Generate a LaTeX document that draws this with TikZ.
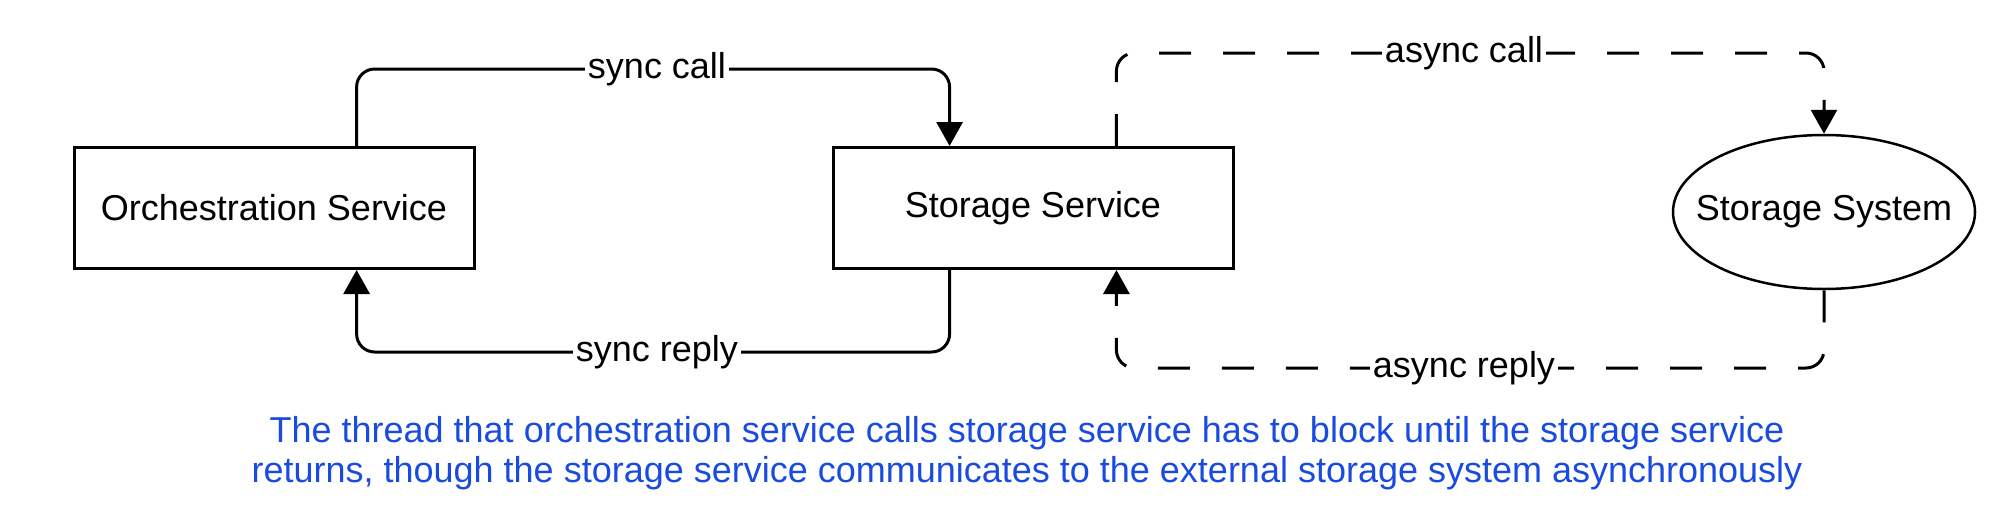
\documentclass[tikz,border=0pt]{standalone}
\usepackage{fontspec}
\setmainfont{Liberation Sans}
\usetikzlibrary{arrows.meta,calc,shapes.geometric}
\definecolor{capblue}{RGB}{25,75,225}
\begin{document}
\begin{tikzpicture}[x=1pt,y=-1pt,
  txt/.style={font=\fontsize{36}{40}\selectfont},
  box/.style={draw, line width=3pt, minimum width=400pt, minimum height=121pt, inner sep=0pt, txt},
  ell/.style={draw, ellipse, line width=2.5pt, minimum width=302pt, minimum height=154pt, inner sep=0pt, txt},
  conn/.style={line width=3pt, rounded corners=18pt, -{Triangle[length=24pt,width=26pt]}},
  dconn/.style={conn, dash pattern=on 32pt off 32pt},
  lbl/.style={fill=white, inner sep=3pt, txt}
]
\useasboundingbox (0,0) rectangle (2000,530);
\node[box] (orch) at (274,208) {Orchestration Service};
\node[box] (ss) at (1033,208) {Storage Service};
\node[ell] (sys) at (1824,212) {\makebox[0pt]{Storage System}};

\coordinate (sctop) at (657,69);
\coordinate (srbot) at (657,352);
\coordinate (actop) at (1464,53);
\coordinate (arbot) at (1464,368);

% sync call
\draw[conn] ($(orch.north west)!0.705!(orch.north east)$) |- (sctop) -| ($(ss.north west)!0.293!(ss.north east)$);
\node[lbl] (lsc) at (sctop) {sync call};
% sync reply
\draw[conn] ($(ss.south west)!0.293!(ss.south east)$) |- (srbot) -| ($(orch.south west)!0.705!(orch.south east)$);
\node[lbl] (lsr) at (srbot) {sync reply};
% async call
\draw[dconn] ($(ss.north west)!0.707!(ss.north east)$) |- (actop) -| (sys.north);
\node[lbl] (lac) at (actop) {async call};
% async reply
\draw[dconn] (sys.south) |- (arbot) -| ($(ss.south west)!0.707!(ss.south east)$);
\node[lbl] (lar) at (arbot) {async reply};

\node[text=capblue, font=\fontsize{36}{40}\selectfont, align=center] (cap) at (1027,453)
  {The thread that orchestration service calls storage service has to block until the storage service\\
   returns, though the storage service communicates to the external storage system asynchronously};
\end{tikzpicture}
\end{document}
